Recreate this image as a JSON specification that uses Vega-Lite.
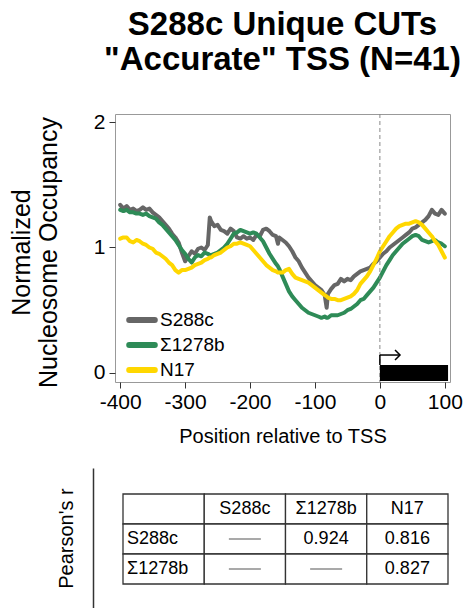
{
  "$schema": "https://vega.github.io/schema/vega-lite/v6.json",
  "padding": {"left": 8, "top": 8, "right": 0, "bottom": 0},
  "spacing": 21,
  "config": {
    "font": "Liberation Sans",
    "view": {"stroke": "#999999", "strokeWidth": 1},
    "axis": {"grid": false, "domain": false, "labelColor": "#000000", "titleColor": "#000000", "tickColor": "#333333", "labelFont": "Liberation Sans", "titleFont": "Liberation Sans", "titleFontWeight": "normal"}
  },
  "vconcat": [
    {
      "width": 335,
      "height": 268,
      "title": {"text": ["S288c Unique CUTs", "\"Accurate\" TSS (N=41)"], "fontSize": 33, "fontWeight": "bold", "anchor": "middle", "frame": "group", "lineHeight": 35, "offset": 34, "color": "#000000"},
      "layer": [
        {
          "data": {"values": [
            {"pos": -400, "S288c": 1.34, "Σ1278b": 1.30, "N17": 1.07},
            {"pos": -395, "S288c": 1.31, "Σ1278b": 1.29, "N17": 1.08},
            {"pos": -390, "S288c": 1.33, "Σ1278b": 1.30, "N17": 1.08},
            {"pos": -385, "S288c": 1.30, "Σ1278b": 1.28, "N17": 1.05},
            {"pos": -380, "S288c": 1.31, "Σ1278b": 1.28, "N17": 1.04},
            {"pos": -375, "S288c": 1.29, "Σ1278b": 1.27, "N17": 1.06},
            {"pos": -370, "S288c": 1.30, "Σ1278b": 1.27, "N17": 1.05},
            {"pos": -365, "S288c": 1.32, "Σ1278b": 1.26, "N17": 1.03},
            {"pos": -360, "S288c": 1.30, "Σ1278b": 1.27, "N17": 1.02},
            {"pos": -355, "S288c": 1.31, "Σ1278b": 1.25, "N17": 1.00},
            {"pos": -350, "S288c": 1.28, "Σ1278b": 1.24, "N17": 0.99},
            {"pos": -345, "S288c": 1.26, "Σ1278b": 1.23, "N17": 0.96},
            {"pos": -340, "S288c": 1.24, "Σ1278b": 1.20, "N17": 0.95},
            {"pos": -335, "S288c": 1.21, "Σ1278b": 1.18, "N17": 0.93},
            {"pos": -330, "S288c": 1.18, "Σ1278b": 1.15, "N17": 0.91},
            {"pos": -325, "S288c": 1.15, "Σ1278b": 1.12, "N17": 0.88},
            {"pos": -320, "S288c": 1.11, "Σ1278b": 1.09, "N17": 0.86},
            {"pos": -315, "S288c": 1.08, "Σ1278b": 1.06, "N17": 0.82},
            {"pos": -310, "S288c": 1.04, "Σ1278b": 1.02, "N17": 0.80},
            {"pos": -305, "S288c": 0.96, "Σ1278b": 0.98, "N17": 0.82},
            {"pos": -300, "S288c": 0.89, "Σ1278b": 0.95, "N17": 0.82},
            {"pos": -295, "S288c": 0.93, "Σ1278b": 0.91, "N17": 0.83},
            {"pos": -290, "S288c": 0.97, "Σ1278b": 0.88, "N17": 0.84},
            {"pos": -285, "S288c": 0.95, "Σ1278b": 0.92, "N17": 0.86},
            {"pos": -280, "S288c": 0.99, "Σ1278b": 0.94, "N17": 0.87},
            {"pos": -275, "S288c": 1.00, "Σ1278b": 0.93, "N17": 0.88},
            {"pos": -270, "S288c": 0.98, "Σ1278b": 0.96, "N17": 0.90},
            {"pos": -265, "S288c": 1.02, "Σ1278b": 0.95, "N17": 0.91},
            {"pos": -262, "S288c": 1.24, "Σ1278b": 0.94, "N17": 0.92},
            {"pos": -260, "S288c": 1.21, "Σ1278b": 0.94, "N17": 0.92},
            {"pos": -255, "S288c": 1.17, "Σ1278b": 0.95, "N17": 0.94},
            {"pos": -250, "S288c": 1.18, "Σ1278b": 0.96, "N17": 0.95},
            {"pos": -245, "S288c": 1.14, "Σ1278b": 0.98, "N17": 0.96},
            {"pos": -240, "S288c": 1.13, "Σ1278b": 1.00, "N17": 0.98},
            {"pos": -235, "S288c": 1.11, "Σ1278b": 1.03, "N17": 1.00},
            {"pos": -230, "S288c": 1.15, "Σ1278b": 1.07, "N17": 1.01},
            {"pos": -225, "S288c": 1.13, "Σ1278b": 1.11, "N17": 1.03},
            {"pos": -220, "S288c": 1.08, "Σ1278b": 1.12, "N17": 1.03},
            {"pos": -215, "S288c": 1.07, "Σ1278b": 1.14, "N17": 1.04},
            {"pos": -210, "S288c": 1.09, "Σ1278b": 1.13, "N17": 1.03},
            {"pos": -205, "S288c": 1.07, "Σ1278b": 1.12, "N17": 1.02},
            {"pos": -200, "S288c": 1.08, "Σ1278b": 1.11, "N17": 1.01},
            {"pos": -195, "S288c": 1.06, "Σ1278b": 1.12, "N17": 0.98},
            {"pos": -190, "S288c": 1.10, "Σ1278b": 1.11, "N17": 0.95},
            {"pos": -185, "S288c": 1.09, "Σ1278b": 1.08, "N17": 0.92},
            {"pos": -180, "S288c": 1.14, "Σ1278b": 1.05, "N17": 0.89},
            {"pos": -175, "S288c": 1.15, "Σ1278b": 1.00, "N17": 0.86},
            {"pos": -170, "S288c": 1.13, "Σ1278b": 0.95, "N17": 0.84},
            {"pos": -165, "S288c": 1.10, "Σ1278b": 0.91, "N17": 0.82},
            {"pos": -160, "S288c": 1.09, "Σ1278b": 0.87, "N17": 0.81},
            {"pos": -157, "S288c": 1.03, "Σ1278b": 0.85, "N17": 0.80},
            {"pos": -155, "S288c": 1.08, "Σ1278b": 0.83, "N17": 0.80},
            {"pos": -150, "S288c": 1.06, "Σ1278b": 0.77, "N17": 0.80},
            {"pos": -145, "S288c": 1.04, "Σ1278b": 0.71, "N17": 0.82},
            {"pos": -140, "S288c": 1.01, "Σ1278b": 0.65, "N17": 0.83},
            {"pos": -135, "S288c": 0.97, "Σ1278b": 0.61, "N17": 0.79},
            {"pos": -130, "S288c": 0.92, "Σ1278b": 0.58, "N17": 0.76},
            {"pos": -125, "S288c": 0.89, "Σ1278b": 0.55, "N17": 0.75},
            {"pos": -120, "S288c": 0.84, "Σ1278b": 0.52, "N17": 0.74},
            {"pos": -115, "S288c": 0.80, "Σ1278b": 0.50, "N17": 0.73},
            {"pos": -110, "S288c": 0.76, "Σ1278b": 0.48, "N17": 0.72},
            {"pos": -105, "S288c": 0.73, "Σ1278b": 0.47, "N17": 0.70},
            {"pos": -100, "S288c": 0.70, "Σ1278b": 0.46, "N17": 0.68},
            {"pos": -95, "S288c": 0.68, "Σ1278b": 0.45, "N17": 0.66},
            {"pos": -90, "S288c": 0.66, "Σ1278b": 0.44, "N17": 0.64},
            {"pos": -85, "S288c": 0.62, "Σ1278b": 0.45, "N17": 0.62},
            {"pos": -82, "S288c": 0.52, "Σ1278b": 0.44, "N17": 0.61},
            {"pos": -80, "S288c": 0.63, "Σ1278b": 0.44, "N17": 0.60},
            {"pos": -75, "S288c": 0.67, "Σ1278b": 0.46, "N17": 0.59},
            {"pos": -70, "S288c": 0.70, "Σ1278b": 0.46, "N17": 0.59},
            {"pos": -65, "S288c": 0.71, "Σ1278b": 0.46, "N17": 0.58},
            {"pos": -60, "S288c": 0.75, "Σ1278b": 0.47, "N17": 0.58},
            {"pos": -55, "S288c": 0.73, "Σ1278b": 0.48, "N17": 0.59},
            {"pos": -50, "S288c": 0.75, "Σ1278b": 0.50, "N17": 0.60},
            {"pos": -45, "S288c": 0.74, "Σ1278b": 0.51, "N17": 0.61},
            {"pos": -40, "S288c": 0.77, "Σ1278b": 0.53, "N17": 0.63},
            {"pos": -35, "S288c": 0.79, "Σ1278b": 0.55, "N17": 0.66},
            {"pos": -30, "S288c": 0.81, "Σ1278b": 0.58, "N17": 0.71},
            {"pos": -25, "S288c": 0.82, "Σ1278b": 0.59, "N17": 0.74},
            {"pos": -20, "S288c": 0.83, "Σ1278b": 0.62, "N17": 0.77},
            {"pos": -15, "S288c": 0.84, "Σ1278b": 0.65, "N17": 0.81},
            {"pos": -10, "S288c": 0.87, "Σ1278b": 0.68, "N17": 0.86},
            {"pos": -5, "S288c": 0.89, "Σ1278b": 0.72, "N17": 0.91},
            {"pos": 0, "S288c": 0.92, "Σ1278b": 0.76, "N17": 0.97},
            {"pos": 5, "S288c": 0.95, "Σ1278b": 0.81, "N17": 1.01},
            {"pos": 10, "S288c": 0.97, "Σ1278b": 0.86, "N17": 1.05},
            {"pos": 15, "S288c": 1.00, "Σ1278b": 0.90, "N17": 1.09},
            {"pos": 20, "S288c": 1.02, "Σ1278b": 0.94, "N17": 1.12},
            {"pos": 25, "S288c": 1.04, "Σ1278b": 0.97, "N17": 1.15},
            {"pos": 30, "S288c": 1.06, "Σ1278b": 1.00, "N17": 1.17},
            {"pos": 35, "S288c": 1.08, "Σ1278b": 1.03, "N17": 1.18},
            {"pos": 40, "S288c": 1.10, "Σ1278b": 1.05, "N17": 1.19},
            {"pos": 45, "S288c": 1.12, "Σ1278b": 1.07, "N17": 1.19},
            {"pos": 50, "S288c": 1.15, "Σ1278b": 1.09, "N17": 1.20},
            {"pos": 55, "S288c": 1.16, "Σ1278b": 1.10, "N17": 1.21},
            {"pos": 60, "S288c": 1.18, "Σ1278b": 1.09, "N17": 1.20},
            {"pos": 65, "S288c": 1.20, "Σ1278b": 1.06, "N17": 1.18},
            {"pos": 70, "S288c": 1.22, "Σ1278b": 1.05, "N17": 1.15},
            {"pos": 75, "S288c": 1.25, "Σ1278b": 1.04, "N17": 1.12},
            {"pos": 80, "S288c": 1.30, "Σ1278b": 1.05, "N17": 1.09},
            {"pos": 85, "S288c": 1.27, "Σ1278b": 1.06, "N17": 1.05},
            {"pos": 90, "S288c": 1.26, "Σ1278b": 1.04, "N17": 1.02},
            {"pos": 95, "S288c": 1.30, "Σ1278b": 1.03, "N17": 0.97},
            {"pos": 100, "S288c": 1.27, "Σ1278b": 1.01, "N17": 0.92}
          ]},
          "transform": [{"fold": ["S288c", "Σ1278b", "N17"], "as": ["strain", "occ"]}],
          "mark": {"type": "line", "strokeWidth": 4, "strokeCap": "round", "strokeJoin": "round"},
          "encoding": {
            "x": {"field": "pos", "type": "quantitative", "scale": {"domain": [-408, 108], "nice": false, "zero": false},
                  "axis": {"values": [-400, -300, -200, -100, 0, 100], "labelExpr": "'' + datum.value", "labelFlush": false, "labelOverlap": false, "labelFontSize": 21, "tickSize": 6, "labelPadding": 3, "title": "Position relative to TSS", "titleFontSize": 20, "titlePadding": 14}},
            "y": {"field": "occ", "type": "quantitative", "scale": {"domain": [-0.072, 2.064], "nice": false, "zero": false},
                  "axis": {"values": [0, 1, 2], "labelExpr": "'' + datum.value", "labelFontSize": 21, "tickSize": 6, "labelPadding": 4, "labelFlush": false, "title": ["Normalized", "Nucleosome Occupancy"], "titleFontSize": 25, "titleLineHeight": 27, "titlePadding": 32, "titleY": 138}},
            "color": {"field": "strain", "type": "nominal", "scale": {"domain": ["S288c", "Σ1278b", "N17"], "range": ["#666666", "#2E8B57", "#FFD700"]},
                      "legend": {"orient": "none", "legendX": 16, "legendY": 195, "title": null, "padding": 0, "symbolType": "M-1.6,0H1.6", "symbolSize": 256, "symbolStrokeWidth": 6, "labelFontSize": 19, "labelOffset": 7, "rowPadding": 1, "labelColor": "#000000",
                                 "encode": {"symbols": {"update": {"strokeCap": {"value": "round"}, "stroke": {"signal": "datum.value === 'Σ1278b' ? '#43CD80' : scale('color', datum.value)"}}}}}}
          }
        },
        {
          "data": {"values": [{"tss": 0, "gene_end": 105}]},
          "mark": {"type": "rule", "strokeDash": [4, 3], "color": "#888888", "strokeWidth": 1},
          "encoding": {"x": {"field": "tss", "type": "quantitative"}}
        },
        {
          "data": {"values": [{"tss": 0, "gene_end": 105}]},
          "mark": {"type": "rect", "color": "#000000"},
          "encoding": {"x": {"field": "tss", "type": "quantitative"}, "x2": {"field": "gene_end"}, "y": {"datum": -0.065}, "y2": {"datum": 0.064}}
        },
        {
          "data": {"values": [{"tss": 0, "gene_end": 105}]},
          "mark": {"type": "rule", "color": "#000000", "strokeWidth": 1.5},
          "encoding": {"x": {"field": "tss", "type": "quantitative"}, "y": {"datum": 0.064}, "y2": {"datum": 0.143}}
        },
        {
          "data": {"values": [{"tss": 0, "gene_end": 105}]},
          "mark": {"type": "rule", "color": "#000000", "strokeWidth": 1.5},
          "encoding": {"x": {"field": "tss", "type": "quantitative"}, "x2": {"datum": 31}, "y": {"datum": 0.143}}
        },
        {
          "data": {"values": [{"tss": 0, "gene_end": 105}]},
          "mark": {"type": "point", "shape": "M-1,-1L0,0L-1,1", "size": 100, "filled": false, "stroke": "#000000", "strokeWidth": 1.5, "opacity": 1},
          "encoding": {"x": {"datum": 31}, "y": {"datum": 0.143}}
        }
      ]
    },
    {
      "width": 335,
      "height": 140,
      "view": {"stroke": null},
      "data": {"values": [
        {"row": "header", "col": "label", "txt": ""},
        {"row": "header", "col": "S288c", "txt": "S288c"},
        {"row": "header", "col": "Σ1278b", "txt": "Σ1278b"},
        {"row": "header", "col": "N17", "txt": "N17"},
        {"row": "S288c", "col": "label", "txt": "S288c"},
        {"row": "S288c", "col": "S288c", "txt": "—"},
        {"row": "S288c", "col": "Σ1278b", "txt": "0.924"},
        {"row": "S288c", "col": "N17", "txt": "0.816"},
        {"row": "Σ1278b", "col": "label", "txt": "Σ1278b"},
        {"row": "Σ1278b", "col": "S288c", "txt": "—"},
        {"row": "Σ1278b", "col": "Σ1278b", "txt": "—"},
        {"row": "Σ1278b", "col": "N17", "txt": "0.827"}
      ]},
      "encoding": {
        "x": {"field": "col", "type": "nominal", "sort": ["label", "S288c", "Σ1278b", "N17"], "scale": {"range": [8, 333], "paddingInner": 0, "paddingOuter": 0}, "axis": null},
        "y": {"field": "row", "type": "nominal", "sort": ["header", "S288c", "Σ1278b"], "scale": {"paddingInner": 0, "paddingOuter": 0.833, "align": 0.52},
              "axis": {"title": "Pearson's r", "titleFontSize": 20, "labels": false, "ticks": false, "domain": true, "domainColor": "#333333", "domainWidth": 1.5, "offset": 22, "titlePadding": 17}}
      },
      "layer": [
        {"mark": {"type": "rect", "fill": "#ffffff", "stroke": "#333333", "strokeWidth": 1.3}},
        {
          "transform": [{"filter": "datum.col === 'label'"}],
          "mark": {"type": "text", "align": "left", "baseline": "middle", "dx": 4, "fontSize": 18, "color": "#000000"},
          "encoding": {"x": {"field": "col", "type": "nominal", "sort": ["label", "S288c", "Σ1278b", "N17"], "bandPosition": 0}, "text": {"field": "txt"}}
        },
        {
          "transform": [{"filter": "datum.col !== 'label' && datum.txt !== '—'"}],
          "mark": {"type": "text", "align": "center", "baseline": "middle", "fontSize": 18, "color": "#000000"},
          "encoding": {"text": {"field": "txt"}}
        },
        {
          "transform": [{"filter": "datum.txt === '—'"}],
          "mark": {"type": "tick", "orient": "horizontal", "size": 32, "thickness": 1, "color": "#555555", "opacity": 1}
        }
      ]
    }
  ]
}
